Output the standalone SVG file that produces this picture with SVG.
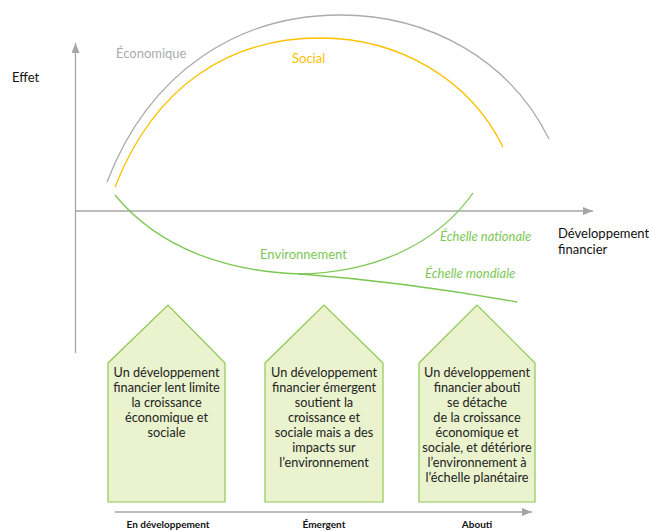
<svg xmlns="http://www.w3.org/2000/svg" width="649" height="531" viewBox="0 0 649 531">
<defs>
<marker id="ah" viewBox="0 0 10 8" refX="10" refY="4" markerWidth="10" markerHeight="8" markerUnits="userSpaceOnUse" orient="auto"><path d="M0,0 L10,4 L0,8 Z" fill="#A6A6A6"/></marker>
</defs>
<style>
.ax{stroke:#A6A6A6;stroke-width:1.3;fill:none}
.cur{fill:none;stroke-width:1.3}
.t{font-family:Lato,"Open Sans",sans-serif;font-size:13px}
.box{fill:#EAF2CE;stroke:#8DC853;stroke-width:1.2}
.bt{font-family:Lato,"Open Sans",sans-serif;font-size:12.7px;fill:#222;text-anchor:middle}
.lb{font-family:Lato,"Open Sans",sans-serif;font-size:10px;font-weight:bold;fill:#111;text-anchor:middle}
.g{fill:#7DC855}
</style>
<rect width="649" height="531" fill="#fff"/>
<g id="axes">
<line class="ax" x1="75.5" y1="353" x2="75.5" y2="43" marker-end="url(#ah)"/>
<line class="ax" x1="75" y1="211" x2="593" y2="211" marker-end="url(#ah)"/>
<line class="ax" x1="115" y1="512" x2="532" y2="512" marker-end="url(#ah)"/>
</g>
<g id="curves">
<path class="cur" stroke="#ABABAB" d="M107,182 C150,70 240,15 340,15 C430,15 510,60 549,139"/>
<path class="cur" stroke="#FFC000" d="M115,187 C155,85 230,38 320,38 C400,38 470,80 503,147"/>
<path class="cur" stroke="#7DC855" d="M115,195 C160,250 230,272 302,274"/>
<path class="cur" stroke="#7DC855" d="M298,274 C380,273 440,240 473,193"/>
<path class="cur" stroke="#7DC855" d="M300,274 C380,280 450,290 517,302"/>
</g>
<g id="labels">
<text class="t" x="12" y="82" fill="#111">Effet</text>
<text class="t" x="116" y="58" fill="#ABABAB">Économique</text>
<text class="t" x="292" y="63" fill="#FFC000">Social</text>
<text class="t g" x="260" y="259">Environnement</text>
<text class="t g" x="440" y="241" font-style="italic" font-size="12.5">Échelle nationale</text>
<text class="t g" x="425" y="278" font-style="italic" font-size="12.5">Échelle mondiale</text>
<text class="t" x="558" y="238" fill="#111">Développement</text>
<text class="t" x="558" y="254" fill="#111">financier</text>
</g>
<g id="box1">
<path class="box" d="M108,363 L168,305 L225,363 L225,502 L108,502 Z"/>
<text class="bt"><tspan x="166.5" y="377">Un développement</tspan><tspan x="166.5" y="392">financier lent limite</tspan><tspan x="166.5" y="407">la croissance</tspan><tspan x="166.5" y="422">économique et</tspan><tspan x="166.5" y="437">sociale</tspan></text>
</g>
<g id="box2">
<path class="box" d="M265,363 L324,305 L383,363 L383,502 L265,502 Z"/>
<text class="bt"><tspan x="324" y="377">Un développement</tspan><tspan x="324" y="392">financier émergent</tspan><tspan x="324" y="407">soutient la</tspan><tspan x="324" y="422">croissance et</tspan><tspan x="324" y="437">sociale mais a des</tspan><tspan x="324" y="452">impacts sur</tspan><tspan x="324" y="467">l’environnement</tspan></text>
</g>
<g id="box3">
<path class="box" d="M419,363 L477,305 L535,363 L535,502 L419,502 Z"/>
<text class="bt"><tspan x="477" y="377">Un développement</tspan><tspan x="477" y="392">financier abouti</tspan><tspan x="477" y="407">se détache</tspan><tspan x="477" y="422">de la croissance</tspan><tspan x="477" y="437">économique et</tspan><tspan x="477" y="452">sociale, et détériore</tspan><tspan x="477" y="467">l’environnement à</tspan><tspan x="477" y="482">l’échelle planétaire</tspan></text>
</g>
<g id="stages">
<text class="lb" x="168" y="527.5">En développement</text>
<text class="lb" x="324" y="527.5">Émergent</text>
<text class="lb" x="477" y="527.5">Abouti</text>
</g>
</svg>
